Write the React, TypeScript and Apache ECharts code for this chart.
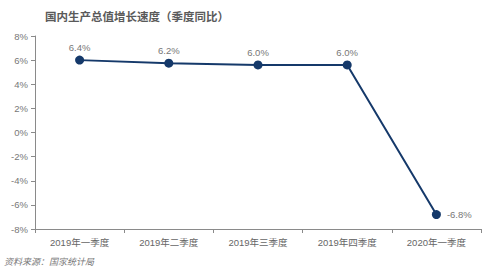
import React, { useEffect, useRef } from "react";
import * as echarts from "echarts";

const categories = ["2019年一季度", "2019年二季度", "2019年三季度", "2019年四季度", "2020年一季度"];
const plottedValues = [6.0, 5.75, 5.6, 5.6, -6.8];
const valueLabels = ["6.4%", "6.2%", "6.0%", "6.0%", "-6.8%"];
const titleText = "国内生产总值增长速度（季度同比）";
const sourceText = "资料来源：国家统计局";

export default function App() {
  const ref = useRef<HTMLDivElement>(null);
  useEffect(() => {
    if (!ref.current) return;
    const chart = echarts.init(ref.current, undefined, { renderer: "svg" });
    const font = "'Liberation Sans', 'Noto Sans CJK SC', sans-serif";
    chart.setOption({
      animation: false,
      backgroundColor: "#ffffff",
      textStyle: { fontFamily: font },
      title: {
        text: titleText,
        left: 40,
        top: 6,
        textStyle: { fontSize: 11.5, fontWeight: "bold", color: "#5a5a5a", fontFamily: font },
      },
      graphic: [
        {
          type: "text",
          left: 4,
          top: 257,
          style: { text: sourceText, fontSize: 9, fontStyle: "italic", fill: "#777", fontFamily: font },
        },
      ],
      grid: { left: 35, right: 19, top: 36, bottom: 46 },
      xAxis: {
        type: "category",
        data: categories,
        boundaryGap: true,
        axisLine: { show: true, onZero: false, lineStyle: { color: "#8a8a8a", width: 1 } },
        axisTick: { show: true, alignWithLabel: false, length: 4, lineStyle: { color: "#8a8a8a" } },
        axisLabel: { color: "#666", fontSize: 9.5, margin: 9, fontFamily: font },
      },
      yAxis: {
        type: "value",
        min: -8,
        max: 8,
        interval: 2,
        axisLine: { show: true, lineStyle: { color: "#8a8a8a", width: 1 } },
        axisTick: { show: true, length: 4, lineStyle: { color: "#8a8a8a" } },
        splitLine: { show: false },
        axisLabel: { color: "#777", fontSize: 9.5, margin: 7, formatter: "{value}%", fontFamily: font },
      },
      series: [
        {
          type: "line",
          data: plottedValues.map((v, i) => ({
            value: v,
            label:
              i === plottedValues.length - 1
                ? { position: "right", distance: 6 }
                : { position: "top", distance: 3 },
          })),
          lineStyle: { color: "#15396a", width: 2 },
          itemStyle: { color: "#15396a" },
          symbol: "circle",
          symbolSize: 9,
          label: {
            show: true,
            color: "#777",
            fontSize: 9.5,
            fontFamily: font,
            formatter: (p: any) => valueLabels[p.dataIndex],
          },
        },
      ],
    });
    return () => chart.dispose();
  }, []);
  return (
    <div
      ref={ref}
      style={{ position: "absolute", left: 0, top: 0, width: 500, height: 275 }}
    />
  );
}
